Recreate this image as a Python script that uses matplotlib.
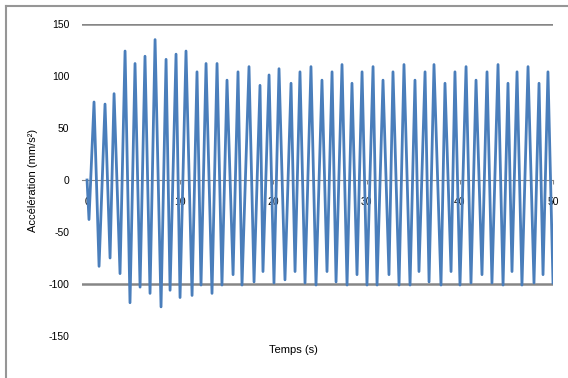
import matplotlib
matplotlib.use("Agg")
import matplotlib.pyplot as plt
from matplotlib.lines import Line2D

plt.rcParams['font.family'] = ['Liberation Sans', 'DejaVu Sans']

# Successive extremes of the recorded signal (time in s, acceleration in mm/s²)
times = [0.00, 0.21, 0.75, 1.29, 1.93, 2.47, 2.90, 3.54, 4.08, 4.61,
         5.15, 5.69, 6.22, 6.76, 7.30, 7.94, 8.48, 8.91, 9.55, 9.98,
         10.62, 11.27, 11.80, 12.23, 12.77, 13.41, 13.95, 14.48, 15.02, 15.67,
         16.20, 16.63, 17.38, 17.92, 18.56, 18.88, 19.53, 20.06, 20.60, 21.24,
         21.89, 22.32, 22.85, 23.39, 24.03, 24.57, 25.21, 25.75, 26.29, 26.72,
         27.36, 27.90, 28.43, 28.97, 29.51, 30.04, 30.69, 31.12, 31.76, 32.40,
         32.83, 33.48, 34.01, 34.66, 35.19, 35.62, 36.27, 36.70, 37.23, 37.98,
         38.41, 39.06, 39.48, 40.02, 40.67, 41.20, 41.74, 42.38, 42.92, 43.45,
         44.10, 44.64, 45.17, 45.60, 46.14, 46.67, 47.32, 47.96, 48.50, 48.93,
         49.46, 50.00]
accel = [0, -38, 75, -83, 73, -75, 83, -90, 124, -118,
         112, -103, 119, -109, 135, -122, 116, -106, 121, -113,
         124, -111, 104, -101, 112, -109, 112, -101, 96, -91,
         104, -101, 109, -98, 91, -88, 101, -99, 107, -96,
         93, -88, 104, -99, 109, -101, 96, -88, 104, -98,
         111, -101, 93, -91, 104, -101, 109, -101, 96, -91,
         104, -101, 111, -101, 96, -88, 104, -98, 111, -101,
         93, -88, 104, -101, 109, -99, 96, -91, 104, -99,
         111, -101, 93, -88, 104, -101, 109, -99, 93, -91,
         104, -99]

x_ticks = [0, 10, 20, 30, 40, 50]
y_ticks = [150, 100, 50, 0, -50, -100, -150]
ref_lines = [150, -100]

fig = plt.figure(figsize=(5.68, 3.78), dpi=100)
ax = fig.add_axes([82 / 568, 42 / 378, 471 / 568, 312 / 378])

for yv in ref_lines:
    ax.axhline(yv, color='#868686', lw=1.8, zorder=1)

ax.plot(times, accel, color='#4a7ebb', lw=2.0, zorder=3)

ax.set_xlim(-0.54, 50)
ax.set_ylim(-150, 150)

for side in ['left', 'right', 'top']:
    ax.spines[side].set_visible(False)
ax.spines['bottom'].set_position(('data', 0))
ax.spines['bottom'].set_color('#868686')
ax.spines['bottom'].set_zorder(1)

ax.set_xticks(x_ticks)
ax.set_xticklabels([str(v) for v in x_ticks])
ax.set_yticks(y_ticks)
ax.set_yticklabels([str(v) for v in y_ticks])
ax.tick_params(axis='x', length=3, color='#868686', pad=9, labelsize=7.5)
ax.tick_params(axis='y', length=0, pad=9, labelsize=7.5)
ax.xaxis.set_zorder(1)

fig.text(293 / 568, 1 - 350 / 378, 'Temps (s)', ha='center', va='center', fontsize=8)
fig.text(33 / 568, 1 - 180 / 378, 'Accélération (mm/s²)', ha='center', va='center',
         rotation=90, fontsize=8)

# Chart frame (top and left edges)
fig.add_artist(Line2D([6 / 568, 6 / 568], [0, 1 - 6 / 378], color='#969696', lw=1.5,
                      transform=fig.transFigure))
fig.add_artist(Line2D([6 / 568, 1], [1 - 6 / 378, 1 - 6 / 378], color='#969696', lw=1.5,
                      transform=fig.transFigure))

fig.savefig('out.png', dpi=100)
